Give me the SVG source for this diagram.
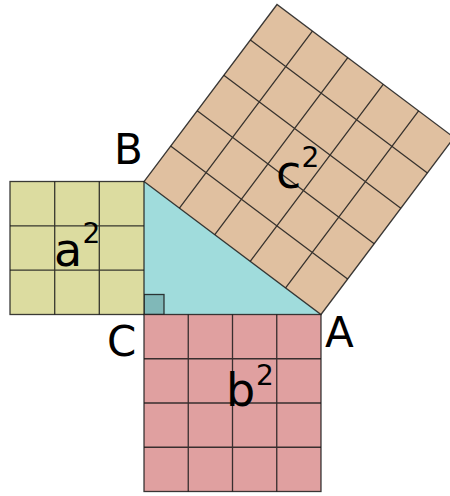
<svg xmlns="http://www.w3.org/2000/svg" width="450" height="496" viewBox="0 0 450 496">
<style>
.g{stroke:#1a1a1a;stroke-width:1.3;stroke-opacity:0.85;fill:none}
.sq{stroke:#1a1a1a;stroke-width:1.3;stroke-opacity:0.85;stroke-linejoin:miter}
.lbl{font-family:"DejaVu Sans",sans-serif;fill:#000}
.big{font-size:42px}
.sym{font-size:46px}
.sup{font-size:28px}
</style>
<rect width="450" height="496" fill="#fff"/>
<g id="triangle">
<polygon points="144,181.5 321,314.5 144,314.5" fill="#a0dcdc"/>
<rect x="144" y="294.5" width="20" height="20" fill="#80b8b8" class="sq"/>
</g>
<g id="square-a">
<rect x="10" y="181.5" width="134" height="133" fill="#dcdca0" class="sq"/>
<path class="g" d="M54.7,181.5V314.5M99.3,181.5V314.5M10,225.8H144M10,270.2H144"/>
</g>
<g id="square-b">
<rect x="144" y="314.5" width="177" height="177" fill="#e0a0a0" class="sq"/>
<path class="g" d="M188.25,314.5V491.5M232.5,314.5V491.5M276.75,314.5V491.5M144,358.75H321M144,403H321M144,447.25H321"/>
</g>
<g id="square-c">
<polygon points="144,181.5 321,314.5 454,137.5 277,4.5" fill="#e0c0a0" class="sq"/>
<path class="g" d="M170.6,146.1L347.6,279.1M197.2,110.7L374.2,243.7M223.8,75.3L400.8,208.3M250.4,39.9L427.4,172.9M179.4,208.1L312.4,31.1M214.8,234.7L347.8,57.7M250.2,261.3L383.2,84.3M285.6,287.9L418.6,110.9"/>
</g>
<g id="labels" class="lbl">
<text x="114" y="164.3" class="big">B</text>
<text x="107" y="356" class="big">C</text>
<text x="325" y="346.7" class="big">A</text>
<text x="54" y="265.5" class="sym">a</text><text x="82.5" y="243" class="sup">2</text>
<text x="276" y="188" class="sym">c</text><text x="301.5" y="167" class="sup">2</text>
<text x="226" y="405.5" class="sym">b</text><text x="256" y="385" class="sup">2</text>
</g>
</svg>
